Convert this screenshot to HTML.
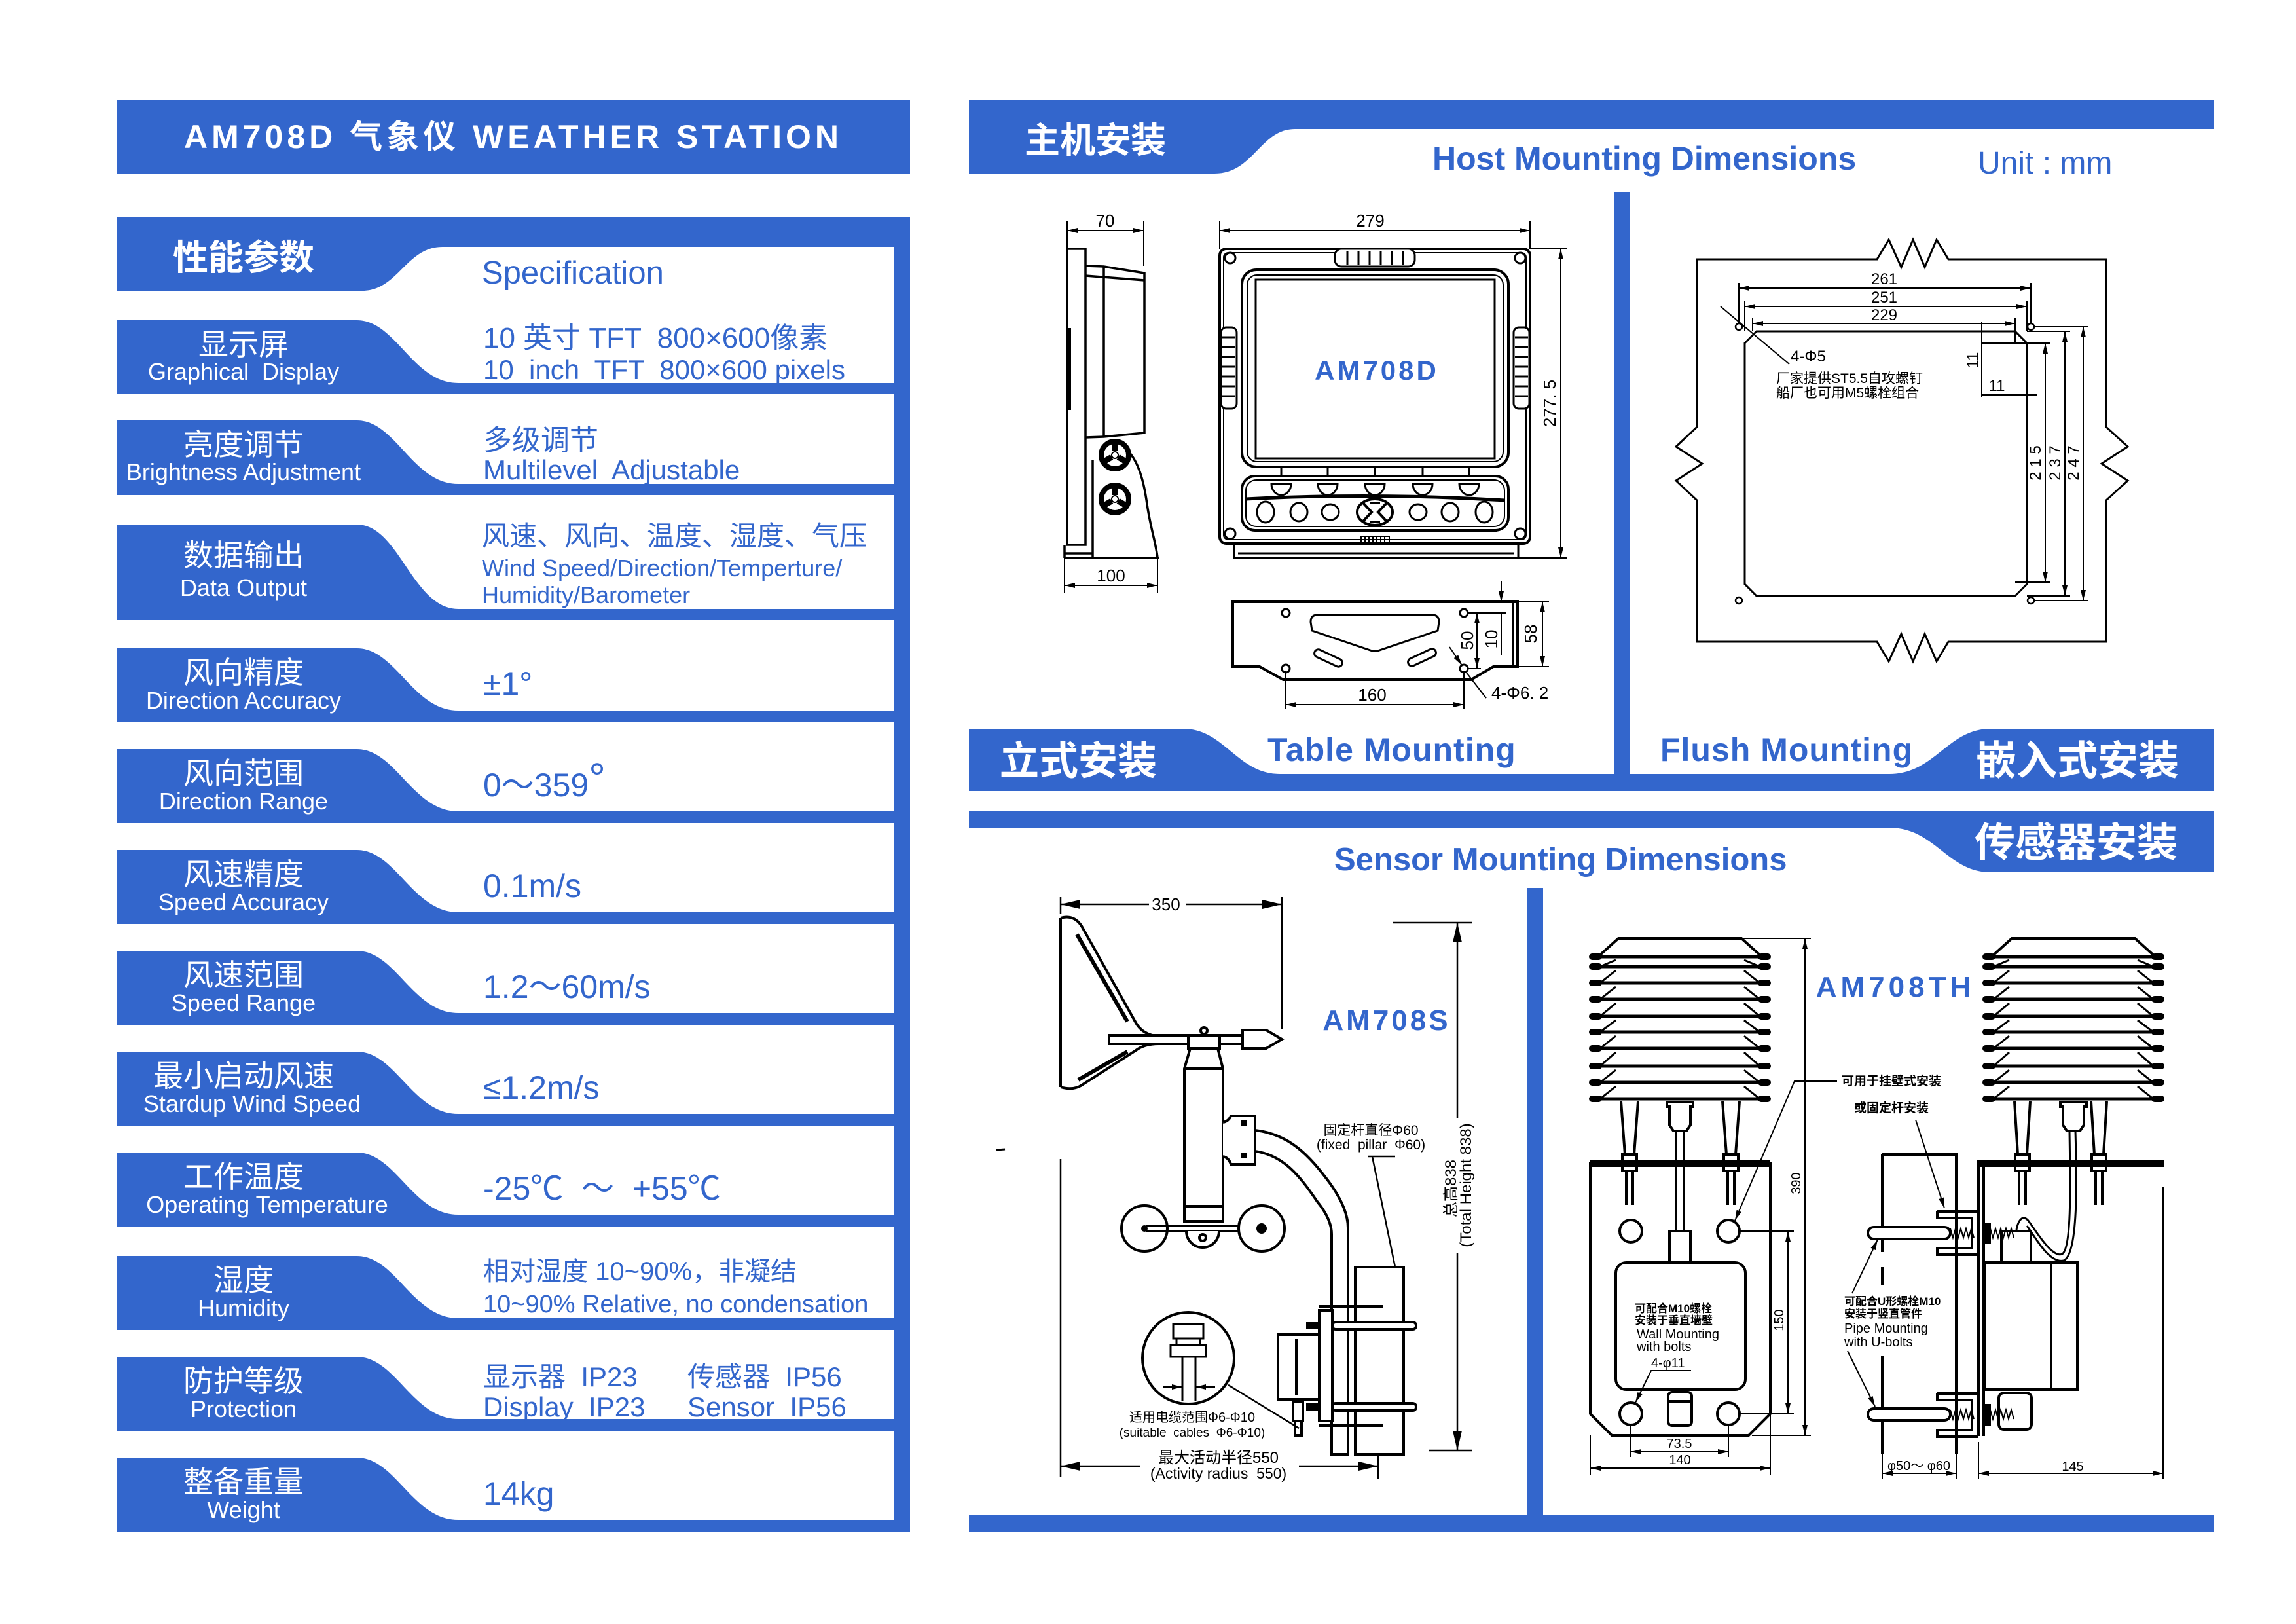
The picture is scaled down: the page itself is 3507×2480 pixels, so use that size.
<!DOCTYPE html>
<html><head><meta charset="utf-8"><style>
html,body{margin:0;padding:0;background:#fff}
svg{display:block}
.t{font-family:"Liberation Sans","Noto Sans CJK SC",sans-serif}
.w{fill:#fff}
.bl{fill:#3366cc}
.k{fill:#000}
.pre{white-space:pre}
</style></head><body>
<svg width="3507" height="2480" viewBox="0 0 3507 2480" xmlns="http://www.w3.org/2000/svg">
<defs>
<marker id="ah" markerUnits="userSpaceOnUse" markerWidth="16" markerHeight="8" refX="16" refY="4" orient="auto-start-reverse"><path d="M0,0L16,4L0,8Z" fill="#000"/></marker>
<marker id="ab" markerUnits="userSpaceOnUse" markerWidth="30" markerHeight="14" refX="30" refY="7" orient="auto-start-reverse"><path d="M0,0L30,7L0,14Z" fill="#000"/></marker>
<g id="lv" stroke="#000" fill="none">
 <path d="M14,1460 L44,1433 L232,1433 L262,1460" stroke-width="4"/>
 <g stroke-width="3">
 <path d="M16,1476 L40,1466 M260,1476 L236,1466"/>
 <path d="M16,1501 L40,1482 M260,1501 L236,1482"/>
 <path d="M16,1526 L40,1507 M260,1526 L236,1507"/>
 <path d="M16,1552 L40,1532 M260,1552 L236,1532"/>
 <path d="M16,1576 L40,1558 M260,1576 L236,1558"/>
 <path d="M16,1601 L40,1582 M260,1601 L236,1582"/>
 <path d="M16,1628 L40,1607 M260,1628 L236,1607"/>
 <path d="M16,1653 L40,1634 M260,1653 L236,1634"/>
 <path d="M16,1678 L40,1659 M260,1678 L236,1659"/>
 </g>
 <g stroke-width="5" stroke-linecap="round">
 <path d="M3,1461H273M3,1476H273M3,1501H273M3,1526H273M3,1552H273M3,1576H273M3,1601H273M3,1628H273M3,1653H273M3,1678H273"/>
 </g>
 <g stroke-width="10" stroke-linecap="round">
 <path d="M4,1461H14M262,1461H272M4,1476H14M262,1476H272M4,1501H14M262,1501H272M4,1526H14M262,1526H272M4,1552H14M262,1552H272M4,1576H14M262,1576H272M4,1601H14M262,1601H272M4,1628H14M262,1628H272M4,1653H14M262,1653H272M4,1678H14M262,1678H272"/>
 </g>
</g>
</defs>

<!-- ============ LEFT PANEL ============ -->
<rect x="178" y="152" width="1212" height="113" fill="#3366cc"/>
<text class="t w" x="784" y="226" font-size="50" font-weight="bold" text-anchor="middle" letter-spacing="6">AM708D 气象仪 WEATHER STATION</text>

<rect x="178" y="331" width="1212" height="46" fill="#3366cc"/>
<rect x="1366" y="331" width="24" height="2008" fill="#3366cc"/>
<path d="M178,377 L178,444 L553,444 C608,444 620,377 676,377 Z" fill="#3366cc"/>
<text class="t w" x="264" y="412" font-size="54" font-weight="bold">性能参数</text>
<text class="t bl" x="736" y="433" font-size="49">Specification</text>

<g fill="#3366cc">
<path d="M178,489 L545,489 C605,489 630,585 700,585 L1390,585 L1390,602 L178,602 Z"/>
<path d="M178,642 L545,642 C605,642 630,739 700,739 L1390,739 L1390,756 L178,756 Z"/>
<path d="M178,801 L545,801 C610,801 630,930 700,930 L1390,930 L1390,947 L178,947 Z"/>
<path d="M178,990 L545,990 C605,990 630,1085 700,1085 L1390,1085 L1390,1103 L178,1103 Z"/>
<path d="M178,1144 L545,1144 C605,1144 630,1239 700,1239 L1390,1239 L1390,1257 L178,1257 Z"/>
<path d="M178,1298 L545,1298 C605,1298 630,1393 700,1393 L1390,1393 L1390,1411 L178,1411 Z"/>
<path d="M178,1452 L545,1452 C605,1452 630,1547 700,1547 L1390,1547 L1390,1565 L178,1565 Z"/>
<path d="M178,1606 L545,1606 C605,1606 630,1701 700,1701 L1390,1701 L1390,1719 L178,1719 Z"/>
<path d="M178,1760 L545,1760 C605,1760 630,1855 700,1855 L1390,1855 L1390,1873 L178,1873 Z"/>
<path d="M178,1918 L545,1918 C605,1918 630,2013 700,2013 L1390,2013 L1390,2031 L178,2031 Z"/>
<path d="M178,2072 L545,2072 C605,2072 630,2167 700,2167 L1390,2167 L1390,2185 L178,2185 Z"/>
<path d="M178,2226 L545,2226 C605,2226 630,2321 700,2321 L1390,2321 L1390,2339 L178,2339 Z"/>
</g>

<g class="t w" text-anchor="middle">
<text x="372" y="542" font-size="46">显示屏</text>
<text x="372" y="580" font-size="36" class="pre">Graphical  Display</text>
<text x="372" y="695" font-size="46">亮度调节</text>
<text x="372" y="733" font-size="36">Brightness Adjustment</text>
<text x="372" y="864" font-size="46">数据输出</text>
<text x="372" y="910" font-size="36">Data Output</text>
<text x="372" y="1043" font-size="46">风向精度</text>
<text x="372" y="1082" font-size="36">Direction Accuracy</text>
<text x="372" y="1197" font-size="46">风向范围</text>
<text x="372" y="1236" font-size="36">Direction Range</text>
<text x="372" y="1351" font-size="46">风速精度</text>
<text x="372" y="1390" font-size="36">Speed Accuracy</text>
<text x="372" y="1505" font-size="46">风速范围</text>
<text x="372" y="1544" font-size="36">Speed Range</text>
<text x="372" y="1659" font-size="46">最小启动风速</text>
<text x="385" y="1698" font-size="36">Stardup Wind Speed</text>
<text x="372" y="1813" font-size="46">工作温度</text>
<text x="408" y="1852" font-size="36">Operating Temperature</text>
<text x="372" y="1971" font-size="46">湿度</text>
<text x="372" y="2010" font-size="36">Humidity</text>
<text x="372" y="2125" font-size="46">防护等级</text>
<text x="372" y="2164" font-size="36">Protection</text>
<text x="372" y="2279" font-size="46">整备重量</text>
<text x="372" y="2318" font-size="36">Weight</text>
</g>

<g class="t bl">
<text x="738" y="531" font-size="44" class="pre">10 英寸 TFT  800×600像素</text>
<text x="738" y="579" font-size="42" class="pre">10  inch  TFT  800×600 pixels</text>
<text x="738" y="687" font-size="44">多级调节</text>
<text x="738" y="732" font-size="42" class="pre">Multilevel  Adjustable</text>
<text x="736" y="833" font-size="42">风速、风向、温度、湿度、气压</text>
<text x="736" y="880" font-size="36">Wind Speed/Direction/Temperture/</text>
<text x="736" y="921" font-size="36">Humidity/Barometer</text>
<text x="738" y="1061" font-size="50">±1°</text>
<text x="738" y="1216" font-size="50">0～359<tspan font-size="64" dy="-6">°</tspan></text>
<text x="738" y="1370" font-size="50">0.1m/s</text>
<text x="738" y="1524" font-size="50">1.2～60m/s</text>
<text x="738" y="1678" font-size="50">≤1.2m/s</text>
<text x="738" y="1832" font-size="50" class="pre">-25℃  ～  +55℃</text>
<text x="738" y="1955" font-size="40">相对湿度 10~90%，非凝结</text>
<text x="738" y="2004" font-size="38">10~90% Relative, no condensation</text>
<text x="738" y="2117" font-size="42" class="pre">显示器  IP23</text>
<text x="1050" y="2117" font-size="42" class="pre">传感器  IP56</text>
<text x="738" y="2163" font-size="42" class="pre">Display  IP23</text>
<text x="1050" y="2163" font-size="42" class="pre">Sensor  IP56</text>
<text x="738" y="2298" font-size="50">14kg</text>
</g>

<!-- ============ RIGHT: HOST SECTION ============ -->
<rect x="1480" y="152" width="1902" height="45" fill="#3366cc"/>
<path d="M1480,197 L1480,265 L1855,265 C1915,265 1925,197 1978,197 Z" fill="#3366cc"/>
<text class="t w" x="1565" y="233" font-size="54" font-weight="bold">主机安装</text>
<text class="t bl" x="2188" y="259" font-size="50" font-weight="bold">Host Mounting Dimensions</text>
<text class="t bl" x="3021" y="265" font-size="48">Unit : mm</text>

<rect x="2466" y="293" width="24" height="900" fill="#3366cc"/>
<path d="M1480,1113 L1808,1113 C1870,1113 1890,1182 1955,1182 L3382,1182 L3382,1208 L1480,1208 Z" fill="#3366cc"/>
<path d="M3382,1113 L3040,1113 C2975,1113 2955,1182 2886,1182 L3382,1182 Z" fill="#3366cc"/>
<text class="t w" x="1527" y="1183" font-size="60" font-weight="bold">立式安装</text>
<text class="t bl" x="1936" y="1162" font-size="50" font-weight="bold" letter-spacing="1">Table Mounting</text>
<text class="t bl" x="2536" y="1162" font-size="50" font-weight="bold" letter-spacing="1">Flush Mounting</text>
<text class="t w" x="3018" y="1183" font-size="62" font-weight="bold">嵌入式安装</text>

<!-- side view -->
<g stroke="#000" stroke-width="2"><line x1="1630" y1="338" x2="1630" y2="380"/><line x1="1747" y1="338" x2="1747" y2="406"/><line x1="1630" y1="352" x2="1747" y2="352" marker-start="url(#ah)" marker-end="url(#ah)"/></g>
<text class="t k" x="1688" y="346" font-size="26" text-anchor="middle">70</text>
<g stroke="#000" fill="none" stroke-width="3.5">
 <rect x="1630" y="380" width="28" height="452"/>
 <path d="M1658,406 L1686,407 L1748,417 L1748,661 L1686,667 L1658,668"/>
 <path d="M1686,407 V667 M1658,421 L1748,428"/>
 <path d="M1669,852 V702 M1722,688 C1740,705 1748,740 1752,770 C1758,810 1766,830 1768,852"/>
 <path d="M1626,845 H1669 M1626,852 H1770 M1626,832 V852"/>
</g>
<rect x="1630" y="501" width="6" height="125" fill="#000"/>
<g transform="translate(1703,695)" stroke="#000"><circle r="21" fill="#fff" stroke-width="8"/><path d="M0,-6V-19M5,3L17,10M-5,3L-17,10" stroke-width="9"/><circle r="5" fill="#fff" stroke-width="2"/></g>
<g transform="translate(1703,762)" stroke="#000"><circle r="21" fill="#fff" stroke-width="8"/><path d="M0,-6V-19M5,3L17,10M-5,3L-17,10" stroke-width="9"/><circle r="5" fill="#fff" stroke-width="2"/></g>
<g stroke="#000" stroke-width="2"><line x1="1626" y1="852" x2="1626" y2="905"/><line x1="1768" y1="852" x2="1768" y2="905"/><line x1="1626" y1="894" x2="1768" y2="894" marker-start="url(#ah)" marker-end="url(#ah)"/></g>
<text class="t k" x="1697" y="888" font-size="26" text-anchor="middle">100</text>

<!-- front view -->
<g stroke="#000" stroke-width="2"><line x1="1863" y1="338" x2="1863" y2="380"/><line x1="2337" y1="338" x2="2337" y2="380"/><line x1="1863" y1="352" x2="2337" y2="352" marker-start="url(#ah)" marker-end="url(#ah)"/></g>
<text class="t k" x="2093" y="346" font-size="26" text-anchor="middle">279</text>
<g stroke="#000" fill="none">
 <rect x="1863" y="380" width="474" height="450" rx="10" stroke-width="4"/>
 <rect x="1869" y="386" width="462" height="438" rx="7" stroke-width="2"/>
 <circle cx="1879" cy="394" r="8" stroke-width="3"/><circle cx="2322" cy="394" r="8" stroke-width="3"/>
 <circle cx="1879" cy="815" r="8" stroke-width="3"/><circle cx="2322" cy="815" r="8" stroke-width="3"/>
 <rect x="2039" y="380" width="122" height="27" rx="10" stroke-width="3" fill="#fff"/>
 <path d="M2058,383V405M2075,383V405M2092,383V405M2109,383V405M2126,383V405M2143,383V405" stroke-width="3"/>
 <rect x="1865" y="500" width="24" height="124" rx="8" stroke-width="3" fill="#fff"/>
 <path d="M1867,515H1887M1867,530H1887M1867,545H1887M1867,560H1887M1867,575H1887M1867,590H1887M1867,605H1887" stroke-width="3"/>
 <rect x="2312" y="500" width="24" height="124" rx="8" stroke-width="3" fill="#fff"/>
 <path d="M2314,515H2334M2314,530H2334M2314,545H2334M2314,560H2334M2314,575H2334M2314,590H2334M2314,605H2334" stroke-width="3"/>
 <rect x="1897" y="412" width="407" height="301" rx="22" stroke-width="4"/>
 <rect x="1905" y="420" width="391" height="285" rx="15" stroke-width="2"/>
 <rect x="1918" y="427" width="365" height="273" stroke-width="3"/>
 <path d="M1957,713V727M2028,713V727M2100,713V727M2173,713V727M2244,713V727" stroke-width="3"/>
 <rect x="1897" y="727" width="407" height="83" rx="20" stroke-width="4"/>
 <rect x="1903" y="733" width="395" height="71" rx="16" stroke-width="2"/>
 <path d="M1942,739H1972A15,17 0 0 1 1942,739Z M2013,739H2043A15,17 0 0 1 2013,739Z M2085,739H2115A15,17 0 0 1 2085,739Z M2158,739H2188A15,17 0 0 1 2158,739Z M2229,739H2259A15,17 0 0 1 2229,739Z" stroke-width="3"/>
 <path d="M1903,762 Q2100,752 2298,764" stroke-width="5"/>
 <ellipse cx="1933" cy="782" rx="13" ry="16" stroke-width="3"/>
 <ellipse cx="1984" cy="782" rx="13" ry="14" stroke-width="3"/>
 <ellipse cx="2032" cy="782" rx="13" ry="12" stroke-width="3"/>
 <ellipse cx="2166" cy="782" rx="13" ry="12" stroke-width="3"/>
 <ellipse cx="2215" cy="782" rx="13" ry="14" stroke-width="3"/>
 <ellipse cx="2267" cy="782" rx="13" ry="16" stroke-width="3"/>
 <ellipse cx="2100" cy="782" rx="27" ry="20" stroke-width="4"/>
 <path d="M2082,768 L2095,782 L2082,796 M2118,768 L2105,782 L2118,796 M2092,768H2108 M2092,797H2108" stroke-width="4"/>
 <rect x="2079" y="819" width="43" height="11" stroke-width="2"/>
 <path d="M2085,820V829M2091,820V829M2097,820V829M2103,820V829M2109,820V829M2115,820V829" stroke-width="2"/>
 <path d="M1885,830V852H2319V830 M1891,845H2313" stroke-width="3"/>
</g>
<text class="t bl" x="2103" y="580" font-size="42" font-weight="bold" text-anchor="middle" letter-spacing="4">AM708D</text>
<g stroke="#000" stroke-width="2"><line x1="2337" y1="380" x2="2394" y2="380"/><line x1="2319" y1="852" x2="2394" y2="852"/><line x1="2384" y1="380" x2="2384" y2="852" marker-start="url(#ah)" marker-end="url(#ah)"/></g>
<text class="t k pre" font-size="26" text-anchor="middle" transform="translate(2376,616) rotate(-90)">277. 5</text>

<!-- bracket -->
<g stroke="#000" fill="none">
 <path d="M1883,919 H2318 V1018 H2281 L2247,1038 H1960 L1924,1018 H1883 Z" stroke-width="4"/>
 <path d="M2311,919V1018" stroke-width="2"/>
 <circle cx="1964" cy="936" r="6" stroke-width="3"/><circle cx="2236" cy="936" r="6" stroke-width="3"/>
 <circle cx="1964" cy="1021" r="6" stroke-width="3"/><circle cx="2236" cy="1021" r="6" stroke-width="3"/>
 <path d="M2012,939 L2188,939 Q2198,939 2198,950 L2196,963 L2104,994 L2096,994 L2004,963 L2002,950 Q2002,939 2012,939 Z" stroke-width="3"/>
 <rect x="2006" y="999" width="46" height="12" rx="6" transform="rotate(25 2029 1005)" stroke-width="3"/>
 <rect x="2149" y="998" width="46" height="12" rx="6" transform="rotate(-25 2172 1004)" stroke-width="3"/>
</g>
<g stroke="#000" stroke-width="2" fill="none">
 <line x1="1964" y1="1024" x2="1964" y2="1082"/><line x1="2236" y1="1024" x2="2236" y2="1082"/>
 <line x1="1964" y1="1076" x2="2236" y2="1076" marker-start="url(#ah)" marker-end="url(#ah)"/>
 <line x1="2318" y1="919" x2="2366" y2="919"/><line x1="2318" y1="1018" x2="2366" y2="1018"/>
 <line x1="2356" y1="919" x2="2356" y2="1018" marker-start="url(#ah)" marker-end="url(#ah)"/>
 <line x1="2240" y1="936" x2="2300" y2="936"/>
 <line x1="2293" y1="887" x2="2293" y2="919" marker-end="url(#ah)"/>
 <line x1="2293" y1="936" x2="2293" y2="1000"/>
 <line x1="2256" y1="936" x2="2256" y2="1021" marker-start="url(#ah)" marker-end="url(#ah)"/>
 <line x1="2240" y1="1021" x2="2262" y2="1021"/>
 <line x1="2214" y1="988" x2="2233" y2="1016" marker-end="url(#ah)"/>
 <path d="M2239,1026 L2270,1066"/>
</g>
<text class="t k" x="2096" y="1070" font-size="26" text-anchor="middle">160</text>
<text class="t k" font-size="26" text-anchor="middle" transform="translate(2347,968) rotate(-90)">58</text>
<text class="t k" font-size="26" text-anchor="middle" transform="translate(2287,976) rotate(-90)">10</text>
<text class="t k" font-size="26" text-anchor="middle" transform="translate(2250,978) rotate(-90)">50</text>
<text class="t k" x="2278" y="1067" font-size="26">4-Φ6. 2</text>

<!-- flush mounting -->
<g stroke="#000" fill="none">
 <path d="M2592,396 L2867,396 L2885,366 L2904,408 L2922,366 L2940,408 L2958,366 L2976,396 L3217,396 L3217,652 L3250,682 L3210,708 L3250,734 L3217,764 L3217,980 L2976,980 L2958,1010 L2940,968 L2922,1010 L2904,968 L2885,1010 L2867,980 L2592,980 L2592,764 L2560,734 L2600,708 L2560,682 L2592,652 Z" stroke-width="3"/>
 <path d="M2683,506 L3078,506 L3096,524 L3096,892 L3078,910 L2683,910 L2665,892 L2665,524 Z" stroke-width="3"/>
 <circle cx="2656" cy="499" r="5" stroke-width="2.5"/><circle cx="3102" cy="499" r="5" stroke-width="2.5"/>
 <circle cx="2656" cy="917" r="5" stroke-width="2.5"/><circle cx="3102" cy="917" r="5" stroke-width="2.5"/>
</g>
<g stroke="#000" stroke-width="2" fill="none">
 <line x1="2656" y1="432" x2="2656" y2="494"/><line x1="3102" y1="432" x2="3102" y2="494"/>
 <line x1="2656" y1="440" x2="3102" y2="440" marker-start="url(#ah)" marker-end="url(#ah)"/>
 <line x1="2665" y1="460" x2="2665" y2="506"/><line x1="3096" y1="460" x2="3096" y2="506"/>
 <line x1="2665" y1="468" x2="3096" y2="468" marker-start="url(#ah)" marker-end="url(#ah)"/>
 <line x1="2677" y1="486" x2="2677" y2="506"/><line x1="3078" y1="486" x2="3078" y2="524"/>
 <line x1="2677" y1="494" x2="3078" y2="494" marker-start="url(#ah)" marker-end="url(#ah)"/>
 <line x1="3027" y1="491" x2="3027" y2="606"/>
 <line x1="3027" y1="524" x2="3132" y2="524"/>
 <line x1="3027" y1="603" x2="3111" y2="603"/>
 <line x1="3096" y1="506" x2="3162" y2="506"/><line x1="3096" y1="910" x2="3162" y2="910"/>
 <line x1="3106" y1="499" x2="3190" y2="499"/><line x1="3106" y1="917" x2="3190" y2="917"/>
 <line x1="3078" y1="889" x2="3132" y2="889"/>
 <line x1="3124" y1="524" x2="3124" y2="889" marker-start="url(#ah)" marker-end="url(#ah)"/>
 <line x1="3154" y1="506" x2="3154" y2="910" marker-start="url(#ah)" marker-end="url(#ah)"/>
 <line x1="3182" y1="499" x2="3182" y2="917" marker-start="url(#ah)" marker-end="url(#ah)"/>
 <line x1="2628" y1="468" x2="2733" y2="556"/>
</g>
<g class="t k" font-size="24" text-anchor="middle">
 <text x="2878" y="434">261</text>
 <text x="2878" y="462">251</text>
 <text x="2878" y="489">229</text>
 <text transform="translate(3117,707) rotate(-90)" class="pre">2 1 5</text>
 <text transform="translate(3147,707) rotate(-90)" class="pre">2 3 7</text>
 <text transform="translate(3175,707) rotate(-90)" class="pre">2 4 7</text>
 <text transform="translate(3021,550) rotate(-90)">11</text>
 <text x="3050" y="597">11</text>
</g>
<text class="t k" x="2735" y="552" font-size="24">4-Φ5</text>
<text class="t k" x="2713" y="585" font-size="21">厂家提供ST5.5自攻螺钉</text>
<text class="t k" x="2713" y="607" font-size="21">船厂也可用M5螺栓组合</text>

<!-- ============ SENSOR SECTION ============ -->
<rect x="1480" y="1238" width="1902" height="26" fill="#3366cc"/>
<path d="M3382,1238 L3382,1332 L3040,1332 C2975,1332 2955,1264 2886,1264 L3382,1264 Z" fill="#3366cc"/>
<text class="t w" x="3016" y="1308" font-size="62" font-weight="bold">传感器安装</text>
<text class="t bl" x="2038" y="1329" font-size="49" font-weight="bold">Sensor Mounting Dimensions</text>
<rect x="2332" y="1356" width="25" height="970" fill="#3366cc"/>
<rect x="1480" y="2313" width="1902" height="26" fill="#3366cc"/>

<!-- AM708S anemometer -->
<text class="t bl" x="2118" y="1573" font-size="44" font-weight="bold" text-anchor="middle" letter-spacing="4">AM708S</text>
<g stroke="#000" stroke-width="2.5" fill="none">
 <line x1="1620" y1="1370" x2="1620" y2="1396"/><line x1="1958" y1="1370" x2="1958" y2="1572"/>
 <line x1="1620" y1="1381" x2="1755" y2="1381" marker-start="url(#ab)"/>
 <line x1="1812" y1="1381" x2="1958" y2="1381" marker-end="url(#ab)"/>
 <line x1="1620" y1="1770" x2="1620" y2="2256"/><line x1="2105" y1="2221" x2="2105" y2="2258"/>
 <line x1="1620" y1="2239" x2="1742" y2="2239" marker-start="url(#ab)"/>
 <line x1="1984" y1="2239" x2="2105" y2="2239" marker-end="url(#ab)"/>
 <line x1="2128" y1="1409" x2="2249" y2="1409"/><line x1="2182" y1="2215" x2="2249" y2="2215"/>
 <line x1="2226" y1="1409" x2="2226" y2="1708" marker-start="url(#ab)"/>
 <line x1="2226" y1="1913" x2="2226" y2="2215" marker-end="url(#ab)"/>
 <path d="M2089,1766 H2131 M2096,1766 L2131,1935"/>
 <line x1="1876" y1="2115" x2="1984" y2="2181"/>
</g>
<line x1="1522" y1="1756" x2="1535" y2="1755" stroke="#000" stroke-width="3"/>
<text class="t k" x="1781" y="1390" font-size="26" text-anchor="middle">350</text>
<g stroke="#000" fill="none" stroke-width="4">
 <path d="M1620,1402 V1660"/>
 <path d="M1620,1402 Q1640,1396 1652,1414 L1735,1562 Q1745,1580 1770,1583"/>
 <path d="M1620,1660 Q1640,1666 1654,1656 L1735,1604 Q1748,1594 1770,1594"/>
 <path d="M1645,1427 L1722,1560 M1647,1649 L1722,1606" stroke-width="6"/>
 <rect x="1694" y="1581" width="204" height="13" fill="#fff"/>
 <path d="M1898,1573 H1934 L1958,1587 L1934,1601 H1898 Z" fill="#fff"/>
 <rect x="1815" y="1582" width="48" height="19" fill="#fff"/>
 <circle cx="1839" cy="1574" r="5"/>
 <path d="M1818,1601 H1860 L1868,1632 V1865 H1809 V1632 Z" fill="#fff"/>
 <path d="M1809,1632 H1868 M1809,1842 H1868"/>
 <path d="M1868,1714 Q1877,1712 1880,1704 H1917 V1778 H1880 Q1877,1768 1868,1766" fill="#fff"/>
 <path d="M1917,1726 C1970,1732 2000,1765 2030,1805 Q2059,1845 2059,1875 V2221 H2034 V1885 Q2034,1862 2012,1835 C1985,1795 1960,1764 1917,1758"/>
 <circle cx="1748" cy="1876" r="35" fill="#fff"/>
 <circle cx="1927" cy="1876" r="35" fill="#fff"/>
 <path d="M1750,1872 H1894 M1750,1880 H1894" stroke-width="3"/>
 <path d="M1812,1880 A25,25 0 0 0 1862,1880" fill="#fff"/>
 <circle cx="1837" cy="1890" r="5"/>
 <rect x="2070" y="1935" width="74" height="286" fill="#fff"/>
 <rect x="2015" y="2001" width="20" height="169" fill="#fff"/>
 <path d="M2015,1995 H2112 M2015,2177 H2112"/>
 <rect x="2035" y="2019" width="128" height="11" rx="5" fill="#fff"/>
 <rect x="2035" y="2143" width="128" height="11" rx="5" fill="#fff"/>
 <rect x="1952" y="2038" width="63" height="99" fill="#fff"/>
 <path d="M1980,2045 V2130"/>
 <rect x="1975" y="2140" width="15" height="30"/>
 <rect x="1978" y="2170" width="10" height="22"/>
 <circle cx="1815" cy="2074" r="70" fill="#fff"/>
 <rect x="1792" y="2022" width="46" height="22" stroke-width="3"/>
 <rect x="1797" y="2044" width="36" height="10" stroke-width="3"/>
 <rect x="1788" y="2054" width="54" height="18" stroke-width="3"/>
 <path d="M1806,2072 V2140 M1826,2072 V2140" stroke-width="3"/>
</g>
<circle cx="1927" cy="1876" r="8" fill="#000"/>
<circle cx="1748" cy="1876" r="5" fill="#000"/>
<path d="M1896,1711 h8 v8 h-8z M1896,1760 h8 v8 h-8z M1995,2019 h20 v11 h-20z M1995,2143 h20 v11 h-20z" fill="#000"/>
<g stroke="#000" stroke-width="2"><line x1="1776" y1="2118" x2="1806" y2="2118" marker-end="url(#ah)"/><line x1="1856" y1="2118" x2="1826" y2="2118" marker-end="url(#ah)"/></g>
<g class="t k" text-anchor="middle">
 <text x="2094" y="1733" font-size="21">固定杆直径Φ60</text>
 <text x="2094" y="1755" font-size="21" class="pre">(fixed  pillar  Φ60)</text>
 <text x="1821" y="2171" font-size="20">适用电缆范围Φ6-Φ10</text>
 <text x="1821" y="2194" font-size="19" class="pre">(suitable  cables  Φ6-Φ10)</text>
 <text x="1861" y="2234" font-size="24">最大活动半径550</text>
 <text x="1861" y="2258" font-size="23" class="pre">(Activity radius  550)</text>
 <text transform="translate(2224,1815) rotate(-90)" font-size="24">总高838</text>
 <text transform="translate(2247,1810) rotate(-90)" font-size="24">(Total Height 838)</text>
</g>

<!-- AM708TH -->
<text class="t bl" x="2895" y="1522" font-size="44" font-weight="bold" text-anchor="middle" letter-spacing="6">AM708TH</text>
<use href="#lv" x="2428"/>
<use href="#lv" x="3029"/>
<!-- left (wall) -->
<g stroke="#000" fill="none" stroke-width="4">
 <path d="M2476,1682 L2482,1763 H2496 L2502,1682"/>
 <path d="M2631,1682 L2637,1763 H2651 L2657,1682"/>
 <rect x="2478" y="1763" width="22" height="25" fill="#fff"/>
 <rect x="2633" y="1763" width="22" height="25" fill="#fff"/>
 <path d="M2484,1788 V1840 M2494,1788 V1840 M2639,1788 V1840 M2649,1788 V1840"/>
 <path d="M2546,1683 H2586 V1690 H2582 V1718 L2576,1727 H2556 L2550,1718 V1690 H2546 Z"/>
 <path d="M2560,1727 V1880 M2572,1727 V1880" stroke-width="3"/>
 <path d="M2429,1777 H2704 V2159 L2671,2192 H2462 L2429,2159 Z" stroke-width="4"/>
 <path d="M2429,1777 H2704" stroke-width="10"/>
 <circle cx="2491" cy="1880" r="17"/><circle cx="2640" cy="1880" r="17"/>
 <circle cx="2491" cy="2159" r="17"/><circle cx="2640" cy="2159" r="17"/>
 <rect x="2550" y="1880" width="32" height="48" fill="#fff"/>
 <rect x="2468" y="1928" width="198" height="194" rx="16" fill="#fff"/>
 <rect x="2548" y="2126" width="36" height="51" rx="6" fill="#fff"/>
 <path d="M2548,2140 H2584"/>
</g>
<g stroke="#000" stroke-width="2" fill="none">
 <line x1="2491" y1="2177" x2="2491" y2="2225"/><line x1="2640" y1="2177" x2="2640" y2="2225"/>
 <line x1="2491" y1="2217" x2="2640" y2="2217" marker-start="url(#ah)" marker-end="url(#ah)"/>
 <line x1="2429" y1="2192" x2="2429" y2="2252"/><line x1="2704" y1="2159" x2="2704" y2="2252"/>
 <line x1="2429" y1="2242" x2="2704" y2="2242" marker-start="url(#ah)" marker-end="url(#ah)"/>
 <line x1="2657" y1="1880" x2="2740" y2="1880"/><line x1="2657" y1="2159" x2="2740" y2="2159"/>
 <line x1="2731" y1="1880" x2="2731" y2="2159" marker-start="url(#ah)" marker-end="url(#ah)"/>
 <line x1="2660" y1="1433" x2="2766" y2="1433"/><line x1="2676" y1="2192" x2="2766" y2="2192"/>
 <line x1="2757" y1="1433" x2="2757" y2="2192" marker-start="url(#ah)" marker-end="url(#ah)"/>
 <path d="M2806,1651 H2741 L2650,1864" marker-end="url(#ah)"/>
 <path d="M2926,1710 L2970,1845" marker-end="url(#ah)"/>
 <path d="M2583,2093 H2522 L2498,2142" marker-end="url(#ah)"/>
</g>
<g class="t k" font-weight="bold">
 <text x="2497" y="2004" font-size="17">可配合M10螺栓</text>
 <text x="2497" y="2022" font-size="17">安装于垂直墙壁</text>
 <text x="2500" y="2044" font-size="20" font-weight="normal">Wall Mounting</text>
 <text x="2500" y="2063" font-size="20" font-weight="normal">with bolts</text>
 <text x="2522" y="2088" font-size="20" font-weight="normal">4-φ11</text>
 <text x="2813" y="1657" font-size="19">可用于挂壁式安装</text>
 <text x="2832" y="1698" font-size="19">或固定杆安装</text>
</g>
<g class="t k" font-size="20" text-anchor="middle">
 <text x="2565" y="2211">73.5</text>
 <text x="2566" y="2236">140</text>
 <text transform="translate(2724,2016) rotate(-90)">150</text>
 <text transform="translate(2750,1807) rotate(-90)">390</text>
</g>
<!-- right (pipe) -->
<g stroke="#000" fill="none" stroke-width="4">
 <path d="M3077,1682 L3082,1763 H3096 L3101,1682"/>
 <path d="M3194,1682 L3199,1763 H3213 L3218,1682"/>
 <rect x="3078" y="1763" width="22" height="25" fill="#fff"/>
 <rect x="3195" y="1763" width="22" height="25" fill="#fff"/>
 <path d="M3084,1788 V1840 M3094,1788 V1840 M3201,1788 V1840 M3211,1788 V1840"/>
 <path d="M3147,1683 H3187 V1690 H3183 V1718 L3177,1727 H3157 L3151,1718 V1690 H3147 Z"/>
 <path d="M3161,1727 C3162,1800 3165,1905 3150,1915 C3135,1922 3110,1880 3098,1864 C3090,1855 3083,1862 3080,1878" stroke-width="3"/>
 <path d="M3170,1727 C3172,1800 3175,1915 3152,1925 C3130,1930 3108,1888 3096,1872" stroke-width="3"/>
 <path d="M2875,1763 H2988 V2221 M2875,1763 V1912 M2875,1935 V1962 M2875,2070 V2221"/>
 <path d="M3022,1772 V2193 M3030,1782 V2193" stroke-width="4"/>
 <path d="M3022,1777 H3305" stroke-width="10"/>
 <path d="M2959,1850 H3022 M2959,1850 V1860 H3012 V1906 H2959 V1916 H3022"/>
 <path d="M2959,2128 H3022 M2959,2128 V2138 H3012 V2184 H2959 V2194 H3022"/>
 <rect x="2853" y="1874" width="126" height="18" rx="9" fill="#fff"/>
 <rect x="2853" y="2151" width="126" height="18" rx="9" fill="#fff"/>
 <rect x="3031" y="1928" width="142" height="194" fill="#fff"/>
 <path d="M3133,1928 V2122"/>
 <rect x="3057" y="1880" width="45" height="48" fill="#fff"/>
 <rect x="3053" y="2127" width="50" height="56" rx="8" fill="#fff"/>
</g>
<g stroke="#000" stroke-width="2" fill="none">
 <path d="M2979,1876 l4,14 l4,-14 l4,14 l4,-14 l4,14 l4,-14 l4,14 l4,-14 l4,14 M3040,1876 l4,14 l4,-14 l4,14 l4,-14 l4,14 l4,-14 l4,14 l4,-14 l4,14 M2979,2153 l4,14 l4,-14 l4,14 l4,-14 l4,14 l4,-14 l4,14 l4,-14 l4,14 M3040,2153 l4,14 l4,-14 l4,14 l4,-14 l4,14 l4,-14 l4,14 l4,-14 l4,14"/>
 <line x1="2829" y1="1975" x2="2868" y2="1893" marker-end="url(#ah)"/>
 <line x1="2822" y1="2063" x2="2864" y2="2148" marker-end="url(#ah)"/>
 <line x1="2875" y1="2221" x2="2875" y2="2258"/><line x1="2988" y1="2221" x2="2988" y2="2258"/>
 <line x1="2875" y1="2250" x2="2988" y2="2250" marker-start="url(#ah)" marker-end="url(#ah)"/>
 <line x1="3022" y1="2202" x2="3022" y2="2258"/><line x1="3304" y1="1813" x2="3304" y2="2258"/>
 <line x1="3022" y1="2250" x2="3304" y2="2250" marker-start="url(#ah)" marker-end="url(#ah)"/>
</g>
<rect x="3031" y="1867" width="10" height="33" fill="#000"/>
<rect x="3031" y="2144" width="10" height="33" fill="#000"/>
<g class="t k" font-weight="bold">
 <text x="2817" y="1993" font-size="17">可配合U形螺栓M10</text>
 <text x="2817" y="2012" font-size="17">安装于竖直管件</text>
 <text x="2817" y="2035" font-size="20" font-weight="normal">Pipe Mounting</text>
 <text x="2817" y="2056" font-size="20" font-weight="normal">with U-bolts</text>
</g>
<g class="t k" font-size="20" text-anchor="middle">
 <text x="2931" y="2245">φ50～ φ60</text>
 <text x="3166" y="2246">145</text>
</g>
</svg>
</body></html>
